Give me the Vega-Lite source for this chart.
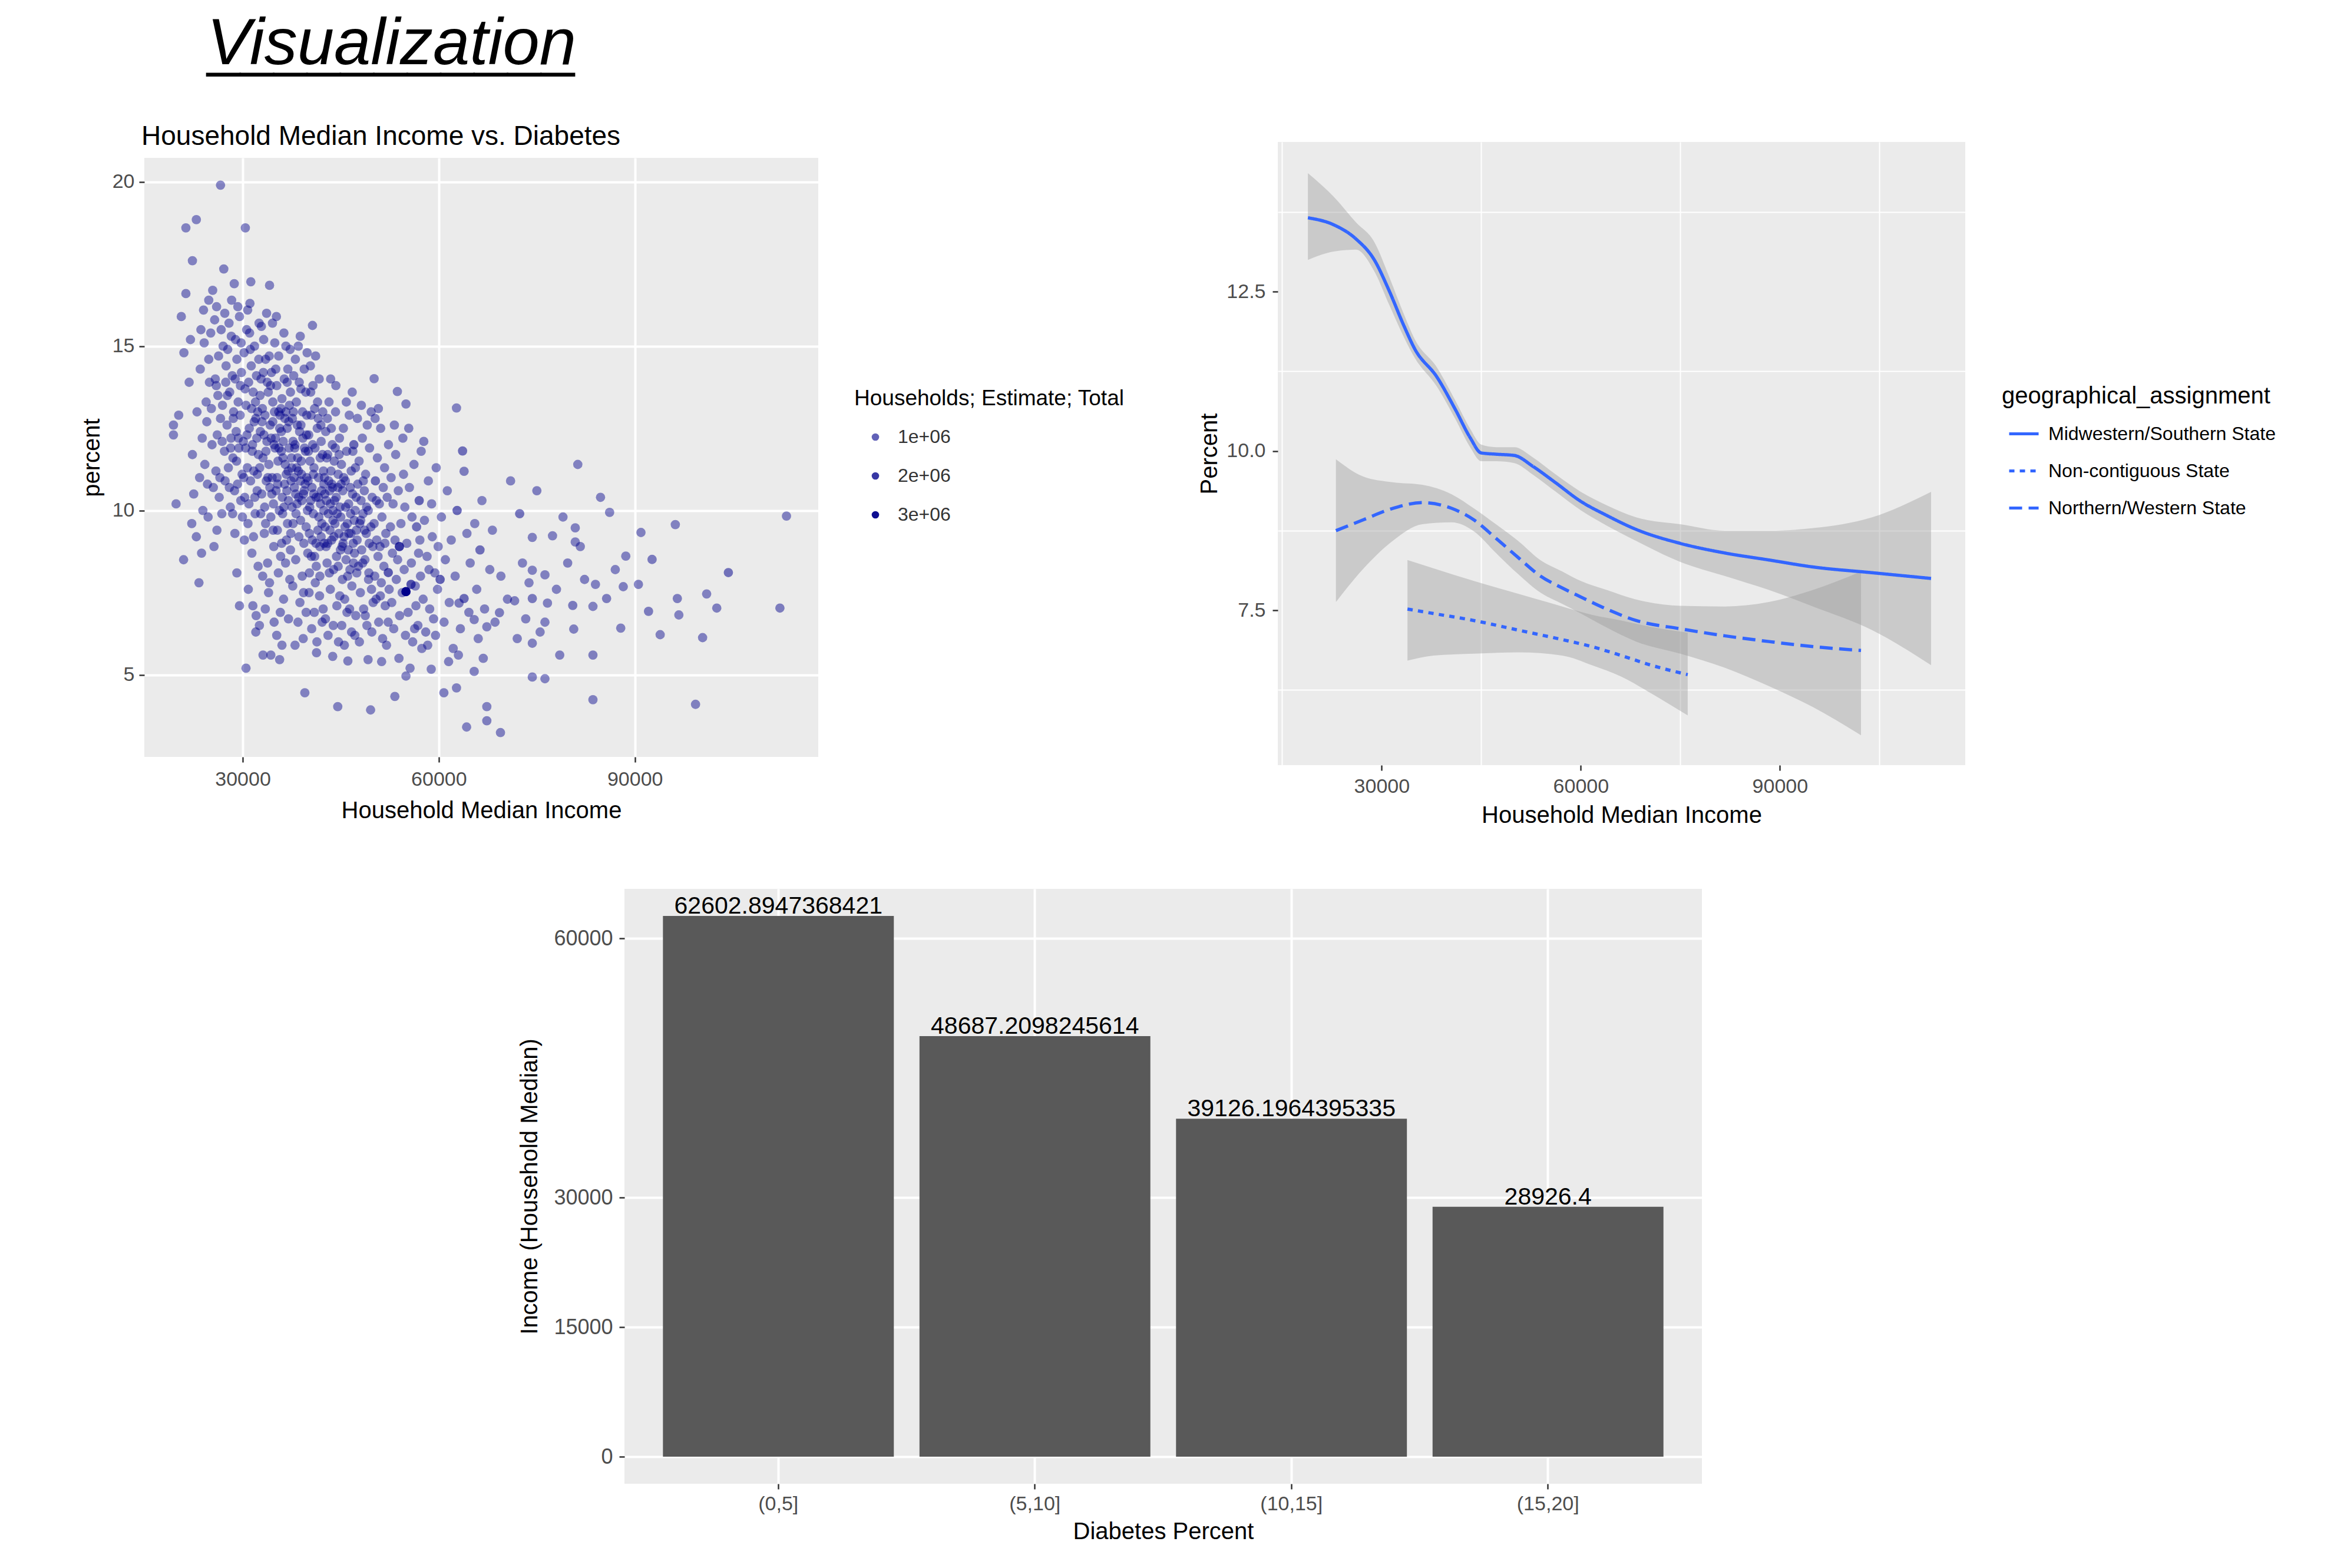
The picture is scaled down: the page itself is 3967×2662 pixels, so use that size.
{
"$schema": "https://vega.github.io/schema/vega-lite/v6.json",
"background": "#FFFFFF",
"padding": {"left": 136, "top": 18, "right": 10, "bottom": 10},
"title": {"text": "Visualization", "subtitle": "___________", "anchor": "start", "font": "Liberation Sans", "fontStyle": "italic", "fontWeight": "normal", "fontSize": 112, "color": "#000000", "subtitleFont": "Liberation Sans", "subtitleFontSize": 102, "subtitleColor": "#000000", "subtitlePadding": -104, "dx": 215, "offset": 76},
"config": {
  "font": "Liberation Sans",
  "view": {"stroke": null},
  "axis": {"domain": false, "labelColor": "#4D4D4D", "labelFont": "Liberation Sans", "titleFont": "Liberation Sans", "titleFontWeight": "normal", "titleColor": "#000000", "tickColor": "#333333", "tickSize": 9, "tickWidth": 2.5, "gridColor": "#FFFFFF", "gridWidth": 4},
  "legend": {"labelFont": "Liberation Sans", "titleFont": "Liberation Sans", "titleFontWeight": "normal", "titleColor": "#000000", "labelColor": "#000000", "padding": 0, "labelLimit": 1000, "titleLimit": 1000}
},
"datasets": {
"bars": [
 {"bin": "(0,5]", "income": 62602.8947368421},
 {"bin": "(5,10]", "income": 48687.2098245614},
 {"bin": "(10,15]", "income": 39126.1964395335},
 {"bin": "(15,20]", "income": 28926.4}
],
"smooth": [
 {"geo":"Midwestern/Southern State","inc":18889,"fit":13.66,"lo":13.00,"hi":14.36},
 {"geo":"Midwestern/Southern State","inc":22778,"fit":13.55,"lo":13.13,"hi":13.99},
 {"geo":"Midwestern/Southern State","inc":26111,"fit":13.33,"lo":13.16,"hi":13.59},
 {"geo":"Midwestern/Southern State","inc":28889,"fit":13.00,"lo":12.82,"hi":13.28},
 {"geo":"Midwestern/Southern State","inc":31111,"fit":12.52,"lo":12.30,"hi":12.74},
 {"geo":"Midwestern/Southern State","inc":33333,"fit":11.97,"lo":11.79,"hi":12.15},
 {"geo":"Midwestern/Southern State","inc":35000,"fit":11.60,"lo":11.46,"hi":11.75},
 {"geo":"Midwestern/Southern State","inc":38333,"fit":11.16,"lo":11.01,"hi":11.31},
 {"geo":"Midwestern/Southern State","inc":41111,"fit":10.65,"lo":10.50,"hi":10.79},
 {"geo":"Midwestern/Southern State","inc":43333,"fit":10.21,"lo":10.06,"hi":10.35},
 {"geo":"Midwestern/Southern State","inc":45000,"fit":9.97,"lo":9.84,"hi":10.10},
 {"geo":"Midwestern/Southern State","inc":47222,"fit":9.95,"lo":9.84,"hi":10.06},
 {"geo":"Midwestern/Southern State","inc":50000,"fit":9.93,"lo":9.81,"hi":10.06},
 {"geo":"Midwestern/Southern State","inc":52778,"fit":9.76,"lo":9.63,"hi":9.90},
 {"geo":"Midwestern/Southern State","inc":56111,"fit":9.51,"lo":9.37,"hi":9.64},
 {"geo":"Midwestern/Southern State","inc":60000,"fit":9.21,"lo":9.07,"hi":9.36},
 {"geo":"Midwestern/Southern State","inc":63889,"fit":8.99,"lo":8.83,"hi":9.15},
 {"geo":"Midwestern/Southern State","inc":68333,"fit":8.77,"lo":8.59,"hi":8.96},
 {"geo":"Midwestern/Southern State","inc":75000,"fit":8.55,"lo":8.26,"hi":8.85},
 {"geo":"Midwestern/Southern State","inc":81667,"fit":8.40,"lo":8.04,"hi":8.75},
 {"geo":"Midwestern/Southern State","inc":88333,"fit":8.29,"lo":7.82,"hi":8.75},
 {"geo":"Midwestern/Southern State","inc":95000,"fit":8.18,"lo":7.56,"hi":8.79},
 {"geo":"Midwestern/Southern State","inc":103889,"fit":8.09,"lo":7.19,"hi":8.96},
 {"geo":"Midwestern/Southern State","inc":112778,"fit":8.00,"lo":6.64,"hi":9.36},
 {"geo":"Non-contiguous State","inc":33889,"fit":7.52,"lo":6.71,"hi":8.29},
 {"geo":"Non-contiguous State","inc":37778,"fit":7.45,"lo":6.79,"hi":8.16},
 {"geo":"Non-contiguous State","inc":43889,"fit":7.34,"lo":6.82,"hi":7.96},
 {"geo":"Non-contiguous State","inc":50556,"fit":7.19,"lo":6.84,"hi":7.76},
 {"geo":"Non-contiguous State","inc":57222,"fit":7.04,"lo":6.79,"hi":7.56},
 {"geo":"Non-contiguous State","inc":61667,"fit":6.93,"lo":6.64,"hi":7.43},
 {"geo":"Non-contiguous State","inc":66111,"fit":6.79,"lo":6.46,"hi":7.34},
 {"geo":"Non-contiguous State","inc":70556,"fit":6.64,"lo":6.20,"hi":7.24},
 {"geo":"Non-contiguous State","inc":76111,"fit":6.49,"lo":5.85,"hi":7.15},
 {"geo":"Northern/Western State","inc":23111,"fit":8.75,"lo":7.63,"hi":9.87},
 {"geo":"Northern/Western State","inc":27222,"fit":8.92,"lo":8.15,"hi":9.60},
 {"geo":"Northern/Western State","inc":31667,"fit":9.10,"lo":8.59,"hi":9.51},
 {"geo":"Northern/Western State","inc":36111,"fit":9.19,"lo":8.85,"hi":9.47},
 {"geo":"Northern/Western State","inc":40556,"fit":9.10,"lo":8.88,"hi":9.32},
 {"geo":"Northern/Western State","inc":43889,"fit":8.92,"lo":8.74,"hi":9.10},
 {"geo":"Northern/Western State","inc":47222,"fit":8.63,"lo":8.40,"hi":8.85},
 {"geo":"Northern/Western State","inc":50556,"fit":8.33,"lo":8.07,"hi":8.59},
 {"geo":"Northern/Western State","inc":53889,"fit":8.04,"lo":7.78,"hi":8.29},
 {"geo":"Northern/Western State","inc":57222,"fit":7.85,"lo":7.60,"hi":8.11},
 {"geo":"Northern/Western State","inc":60000,"fit":7.71,"lo":7.45,"hi":7.96},
 {"geo":"Northern/Western State","inc":63889,"fit":7.52,"lo":7.23,"hi":7.82},
 {"geo":"Northern/Western State","inc":68333,"fit":7.34,"lo":7.01,"hi":7.67},
 {"geo":"Northern/Western State","inc":75000,"fit":7.21,"lo":6.82,"hi":7.57},
 {"geo":"Northern/Western State","inc":81667,"fit":7.10,"lo":6.60,"hi":7.56},
 {"geo":"Northern/Western State","inc":88333,"fit":7.01,"lo":6.31,"hi":7.63},
 {"geo":"Northern/Western State","inc":95000,"fit":6.93,"lo":5.98,"hi":7.82},
 {"geo":"Northern/Western State","inc":102222,"fit":6.87,"lo":5.54,"hi":8.11}
],
"pts": [
{"inc":19400,"pct":12.3,"hh":12000},{"inc":19400,"pct":12.6,"hh":31000},{"inc":19800,"pct":10.2,"hh":8000},{"inc":20600,"pct":15.9,"hh":22000},{"inc":20950,"pct":8.5,"hh":45000},{"inc":21300,"pct":18.6,"hh":15000},{"inc":21300,"pct":16.6,"hh":70000},{"inc":21800,"pct":13.9,"hh":26000},{"inc":22300,"pct":17.6,"hh":10000},{"inc":22300,"pct":11.7,"hh":38000},{"inc":22500,"pct":10.5,"hh":12000},{"inc":21000,"pct":14.8,"hh":31000},{"inc":22000,"pct":15.2,"hh":8000},{"inc":20200,"pct":12.9,"hh":22000},{"inc":22200,"pct":9.6,"hh":45000},
{"inc":22900,"pct":18.85,"hh":15000},{"inc":22900,"pct":9.2,"hh":70000},{"inc":23300,"pct":7.8,"hh":26000},{"inc":23500,"pct":14.3,"hh":10000},{"inc":23600,"pct":15.5,"hh":38000},{"inc":23800,"pct":12.2,"hh":12000},{"inc":24000,"pct":16.1,"hh":31000},{"inc":24200,"pct":11.4,"hh":8000},{"inc":24400,"pct":13.3,"hh":22000},{"inc":24600,"pct":10.8,"hh":45000},{"inc":24800,"pct":16.4,"hh":15000},{"inc":24800,"pct":14.6,"hh":70000},{"inc":23000,"pct":13.0,"hh":26000},{"inc":23900,"pct":10.0,"hh":10000},{"inc":24500,"pct":12.7,"hh":38000},{"inc":24100,"pct":15.1,"hh":12000},{"inc":23400,"pct":11.0,"hh":31000},{"inc":24700,"pct":9.8,"hh":8000},{"inc":24900,"pct":13.9,"hh":22000},{"inc":23700,"pct":8.7,"hh":45000},
{"inc":25100,"pct":15.4,"hh":15000},{"inc":25300,"pct":12.0,"hh":70000},{"inc":25600,"pct":8.9,"hh":26000},{"inc":25800,"pct":14.0,"hh":10000},{"inc":25900,"pct":11.2,"hh":38000},{"inc":26000,"pct":16.2,"hh":12000},{"inc":26200,"pct":13.5,"hh":31000},{"inc":26400,"pct":10.4,"hh":8000},{"inc":26600,"pct":19.9,"hh":22000},{"inc":26600,"pct":12.8,"hh":45000},{"inc":26800,"pct":9.9,"hh":15000},{"inc":27000,"pct":15.0,"hh":70000},{"inc":27100,"pct":17.35,"hh":26000},{"inc":27200,"pct":11.8,"hh":10000},{"inc":27400,"pct":13.9,"hh":38000},{"inc":25200,"pct":13.1,"hh":12000},{"inc":25500,"pct":10.7,"hh":31000},{"inc":25700,"pct":15.8,"hh":8000},{"inc":26100,"pct":12.3,"hh":22000},{"inc":26300,"pct":14.7,"hh":45000},{"inc":26500,"pct":11.0,"hh":15000},{"inc":26700,"pct":15.5,"hh":70000},{"inc":26900,"pct":13.2,"hh":26000},{"inc":27300,"pct":10.9,"hh":10000},{"inc":27450,"pct":14.4,"hh":38000},{"inc":25400,"pct":16.7,"hh":12000},{"inc":26050,"pct":9.4,"hh":31000},{"inc":26850,"pct":12.1,"hh":8000},{"inc":27250,"pct":16.0,"hh":22000},{"inc":25950,"pct":13.8,"hh":45000},
{"inc":27600,"pct":12.6,"hh":15000},{"inc":27700,"pct":14.9,"hh":70000},{"inc":27800,"pct":11.3,"hh":26000},{"inc":27900,"pct":15.7,"hh":10000},{"inc":28000,"pct":13.6,"hh":38000},{"inc":28100,"pct":10.1,"hh":12000},{"inc":28200,"pct":12.2,"hh":31000},{"inc":28300,"pct":16.4,"hh":8000},{"inc":28400,"pct":14.1,"hh":22000},{"inc":28500,"pct":11.6,"hh":45000},{"inc":28700,"pct":16.9,"hh":15000},{"inc":28600,"pct":13.0,"hh":70000},{"inc":28800,"pct":9.3,"hh":26000},{"inc":28900,"pct":15.2,"hh":10000},{"inc":29000,"pct":12.4,"hh":38000},{"inc":29100,"pct":14.6,"hh":12000},{"inc":29100,"pct":8.1,"hh":31000},{"inc":29200,"pct":10.8,"hh":8000},{"inc":29300,"pct":13.3,"hh":22000},{"inc":29400,"pct":11.9,"hh":45000},{"inc":29500,"pct":15.9,"hh":15000},{"inc":29500,"pct":7.1,"hh":70000},{"inc":29600,"pct":12.9,"hh":26000},{"inc":29700,"pct":10.3,"hh":10000},{"inc":29800,"pct":14.2,"hh":38000},{"inc":29900,"pct":11.1,"hh":12000},{"inc":27650,"pct":13.5,"hh":31000},{"inc":27950,"pct":10.7,"hh":8000},{"inc":28250,"pct":15.3,"hh":22000},{"inc":28550,"pct":12.8,"hh":45000},{"inc":28850,"pct":14.0,"hh":15000},{"inc":29050,"pct":11.5,"hh":70000},{"inc":29350,"pct":12.2,"hh":26000},{"inc":29650,"pct":13.8,"hh":10000},{"inc":29950,"pct":9.8,"hh":38000},{"inc":28150,"pct":11.9,"hh":12000},{"inc":28450,"pct":9.9,"hh":31000},{"inc":29250,"pct":16.2,"hh":8000},{"inc":29750,"pct":15.1,"hh":22000},{"inc":28750,"pct":10.6,"hh":45000},
{"inc":30100,"pct":12.1,"hh":15000},{"inc":30200,"pct":14.8,"hh":70000},{"inc":30300,"pct":10.4,"hh":26000},{"inc":30400,"pct":18.6,"hh":10000},{"inc":30500,"pct":13.2,"hh":38000},{"inc":30500,"pct":5.2,"hh":12000},{"inc":30600,"pct":15.5,"hh":31000},{"inc":30700,"pct":11.3,"hh":8000},{"inc":30800,"pct":9.6,"hh":22000},{"inc":30900,"pct":13.9,"hh":45000},{"inc":31000,"pct":12.5,"hh":15000},{"inc":31100,"pct":16.3,"hh":70000},{"inc":31200,"pct":10.9,"hh":26000},{"inc":31237,"pct":16.96,"hh":10000},{"inc":31300,"pct":14.4,"hh":38000},{"inc":31400,"pct":8.7,"hh":12000},{"inc":31500,"pct":12.0,"hh":31000},{"inc":31600,"pct":13.6,"hh":8000},{"inc":31700,"pct":11.2,"hh":22000},{"inc":31800,"pct":15.0,"hh":45000},{"inc":31900,"pct":9.9,"hh":15000},{"inc":32000,"pct":12.8,"hh":70000},{"inc":32100,"pct":14.1,"hh":26000},{"inc":32200,"pct":10.6,"hh":10000},{"inc":32300,"pct":13.0,"hh":38000},{"inc":32400,"pct":11.7,"hh":12000},{"inc":32500,"pct":15.7,"hh":31000},{"inc":30150,"pct":11.0,"hh":8000},{"inc":30350,"pct":13.7,"hh":22000},{"inc":30650,"pct":12.3,"hh":45000},{"inc":30950,"pct":10.2,"hh":15000},{"inc":31150,"pct":14.9,"hh":70000},{"inc":31450,"pct":11.8,"hh":26000},{"inc":31650,"pct":9.2,"hh":10000},{"inc":31950,"pct":13.3,"hh":38000},{"inc":32150,"pct":12.2,"hh":12000},{"inc":32350,"pct":8.3,"hh":31000},{"inc":32450,"pct":14.6,"hh":8000},{"inc":30850,"pct":7.6,"hh":22000},{"inc":31550,"pct":7.1,"hh":45000},{"inc":32050,"pct":6.8,"hh":15000},{"inc":30250,"pct":9.1,"hh":70000},{"inc":30750,"pct":16.1,"hh":26000},{"inc":31050,"pct":15.4,"hh":10000},{"inc":31850,"pct":10.4,"hh":38000},{"inc":32250,"pct":11.1,"hh":12000},{"inc":30450,"pct":11.9,"hh":31000},{"inc":31350,"pct":13.1,"hh":8000},{"inc":31750,"pct":12.7,"hh":22000},{"inc":32000,"pct":6.3,"hh":45000},
{"inc":32550,"pct":6.5,"hh":15000},{"inc":32700,"pct":12.4,"hh":70000},{"inc":32800,"pct":14.0,"hh":26000},{"inc":32900,"pct":10.5,"hh":10000},{"inc":33000,"pct":13.1,"hh":38000},{"inc":33100,"pct":11.6,"hh":12000},{"inc":33200,"pct":15.2,"hh":31000},{"inc":33300,"pct":9.3,"hh":8000},{"inc":33400,"pct":12.9,"hh":22000},{"inc":33500,"pct":14.6,"hh":45000},{"inc":33600,"pct":10.9,"hh":15000},{"inc":33700,"pct":12.1,"hh":70000},{"inc":33800,"pct":8.4,"hh":26000},{"inc":33900,"pct":13.6,"hh":10000},{"inc":34000,"pct":11.4,"hh":38000},{"inc":34100,"pct":16.85,"hh":12000},{"inc":34200,"pct":12.6,"hh":31000},{"inc":34300,"pct":9.8,"hh":8000},{"inc":34300,"pct":5.6,"hh":22000},{"inc":34400,"pct":14.2,"hh":45000},{"inc":34500,"pct":11.0,"hh":15000},{"inc":34600,"pct":13.3,"hh":70000},{"inc":34700,"pct":10.2,"hh":26000},{"inc":34800,"pct":12.0,"hh":10000},{"inc":34900,"pct":15.1,"hh":38000},{"inc":32600,"pct":11.3,"hh":12000},{"inc":32750,"pct":9.9,"hh":31000},{"inc":32950,"pct":12.7,"hh":8000},{"inc":33150,"pct":14.2,"hh":22000},{"inc":33350,"pct":10.1,"hh":45000},{"inc":33550,"pct":11.8,"hh":15000},{"inc":33750,"pct":13.9,"hh":70000},{"inc":33950,"pct":7.5,"hh":26000},{"inc":34150,"pct":10.7,"hh":10000},{"inc":34350,"pct":12.2,"hh":38000},{"inc":34550,"pct":15.7,"hh":12000},{"inc":34750,"pct":8.9,"hh":31000},{"inc":34950,"pct":11.9,"hh":8000},{"inc":32650,"pct":13.5,"hh":22000},{"inc":33050,"pct":8.0,"hh":45000},{"inc":33450,"pct":7.0,"hh":15000},{"inc":33850,"pct":11.0,"hh":70000},{"inc":34250,"pct":13.8,"hh":26000},{"inc":34650,"pct":9.4,"hh":10000},{"inc":34850,"pct":13.0,"hh":38000},{"inc":33250,"pct":12.3,"hh":12000},{"inc":33650,"pct":16.0,"hh":31000},{"inc":34050,"pct":14.7,"hh":8000},{"inc":34450,"pct":10.5,"hh":22000},{"inc":32850,"pct":15.6,"hh":45000},{"inc":33100,"pct":5.6,"hh":15000},{"inc":34800,"pct":6.6,"hh":70000},{"inc":33500,"pct":9.6,"hh":26000},{"inc":34100,"pct":7.8,"hh":10000},{"inc":34600,"pct":12.7,"hh":38000},
{"inc":35000,"pct":12.2,"hh":12000},{"inc":35100,"pct":10.6,"hh":31000},{"inc":35200,"pct":13.8,"hh":8000},{"inc":35300,"pct":9.4,"hh":22000},{"inc":35400,"pct":11.5,"hh":45000},{"inc":35500,"pct":14.7,"hh":15000},{"inc":35600,"pct":10.0,"hh":70000},{"inc":35644,"pct":5.46,"hh":26000},{"inc":35700,"pct":12.9,"hh":10000},{"inc":35800,"pct":8.6,"hh":38000},{"inc":35900,"pct":11.8,"hh":12000},{"inc":36000,"pct":13.4,"hh":31000},{"inc":36100,"pct":9.9,"hh":8000},{"inc":36200,"pct":12.1,"hh":22000},{"inc":36300,"pct":15.4,"hh":45000},{"inc":36400,"pct":10.8,"hh":15000},{"inc":36500,"pct":11.4,"hh":70000},{"inc":36600,"pct":13.0,"hh":26000},{"inc":36700,"pct":9.1,"hh":10000},{"inc":36800,"pct":12.5,"hh":38000},{"inc":36900,"pct":14.3,"hh":12000},{"inc":37000,"pct":10.3,"hh":31000},{"inc":37100,"pct":11.9,"hh":8000},{"inc":37200,"pct":7.9,"hh":22000},{"inc":37300,"pct":13.6,"hh":45000},{"inc":37400,"pct":10.9,"hh":15000},{"inc":35050,"pct":14.3,"hh":70000},{"inc":35250,"pct":11.0,"hh":26000},{"inc":35450,"pct":8.1,"hh":10000},{"inc":35650,"pct":12.5,"hh":38000},{"inc":35850,"pct":13.1,"hh":12000},{"inc":36050,"pct":10.4,"hh":31000},{"inc":36250,"pct":7.3,"hh":8000},{"inc":36450,"pct":12.8,"hh":22000},{"inc":36650,"pct":11.1,"hh":45000},{"inc":36850,"pct":9.6,"hh":15000},{"inc":37050,"pct":12.7,"hh":70000},{"inc":37250,"pct":14.9,"hh":26000},{"inc":37450,"pct":11.6,"hh":10000},{"inc":35150,"pct":15.9,"hh":38000},{"inc":35550,"pct":11.9,"hh":12000},{"inc":35950,"pct":9.0,"hh":31000},{"inc":36350,"pct":14.0,"hh":8000},{"inc":36750,"pct":10.6,"hh":22000},{"inc":37150,"pct":13.2,"hh":45000},{"inc":35350,"pct":10.8,"hh":15000},{"inc":35750,"pct":6.9,"hh":70000},{"inc":36150,"pct":11.6,"hh":26000},{"inc":36550,"pct":8.4,"hh":10000},{"inc":36950,"pct":11.2,"hh":38000},{"inc":37350,"pct":9.3,"hh":12000},{"inc":35200,"pct":6.2,"hh":31000},{"inc":36000,"pct":5.9,"hh":8000},{"inc":36600,"pct":15.0,"hh":22000},{"inc":37000,"pct":6.7,"hh":45000},{"inc":35900,"pct":12.4,"hh":15000},{"inc":36300,"pct":10.1,"hh":70000},{"inc":36800,"pct":13.9,"hh":26000},{"inc":37300,"pct":8.8,"hh":10000},{"inc":35500,"pct":13.0,"hh":38000},
{"inc":37500,"pct":11.3,"hh":12000},{"inc":37600,"pct":12.8,"hh":31000},{"inc":37700,"pct":9.6,"hh":8000},{"inc":37800,"pct":14.1,"hh":22000},{"inc":37900,"pct":10.7,"hh":45000},{"inc":38000,"pct":12.0,"hh":15000},{"inc":38100,"pct":8.5,"hh":70000},{"inc":38200,"pct":13.3,"hh":26000},{"inc":38300,"pct":10.2,"hh":10000},{"inc":38400,"pct":11.6,"hh":38000},{"inc":38500,"pct":15.0,"hh":12000},{"inc":38600,"pct":9.2,"hh":31000},{"inc":38700,"pct":12.4,"hh":8000},{"inc":38800,"pct":10.9,"hh":22000},{"inc":38900,"pct":13.7,"hh":45000},{"inc":39000,"pct":11.1,"hh":15000},{"inc":39100,"pct":8.0,"hh":70000},{"inc":39200,"pct":12.2,"hh":26000},{"inc":39300,"pct":10.5,"hh":10000},{"inc":39400,"pct":14.3,"hh":38000},{"inc":39500,"pct":4.45,"hh":12000},{"inc":39600,"pct":11.8,"hh":31000},{"inc":39700,"pct":9.5,"hh":8000},{"inc":39800,"pct":12.9,"hh":22000},{"inc":39900,"pct":10.0,"hh":45000},{"inc":37550,"pct":10.1,"hh":15000},{"inc":37750,"pct":13.0,"hh":70000},{"inc":37950,"pct":11.9,"hh":26000},{"inc":38150,"pct":9.9,"hh":10000},{"inc":38350,"pct":12.6,"hh":38000},{"inc":38550,"pct":10.4,"hh":12000},{"inc":38750,"pct":7.2,"hh":31000},{"inc":38950,"pct":11.5,"hh":8000},{"inc":39150,"pct":13.0,"hh":22000},{"inc":39350,"pct":9.0,"hh":45000},{"inc":39550,"pct":10.8,"hh":15000},{"inc":39750,"pct":12.3,"hh":70000},{"inc":39950,"pct":8.7,"hh":26000},{"inc":37650,"pct":7.7,"hh":10000},{"inc":38050,"pct":14.6,"hh":38000},{"inc":38450,"pct":6.6,"hh":12000},{"inc":38850,"pct":9.7,"hh":31000},{"inc":39250,"pct":6.1,"hh":8000},{"inc":39650,"pct":13.6,"hh":22000},{"inc":37850,"pct":11.0,"hh":45000},{"inc":38250,"pct":11.3,"hh":15000},{"inc":38650,"pct":13.9,"hh":70000},{"inc":39050,"pct":10.3,"hh":26000},{"inc":39450,"pct":11.9,"hh":10000},{"inc":39850,"pct":14.8,"hh":38000},{"inc":38000,"pct":5.9,"hh":12000},{"inc":38800,"pct":15.3,"hh":31000},{"inc":39300,"pct":7.5,"hh":8000},{"inc":39700,"pct":6.9,"hh":22000},{"inc":37700,"pct":12.1,"hh":45000},{"inc":38100,"pct":10.5,"hh":15000},{"inc":38500,"pct":11.2,"hh":70000},{"inc":38900,"pct":12.6,"hh":26000},{"inc":39400,"pct":10.6,"hh":10000},{"inc":39800,"pct":11.0,"hh":38000},
{"inc":40000,"pct":10.9,"hh":12000},{"inc":40100,"pct":12.3,"hh":31000},{"inc":40200,"pct":9.3,"hh":8000},{"inc":40300,"pct":11.5,"hh":22000},{"inc":40400,"pct":13.6,"hh":45000},{"inc":40500,"pct":8.6,"hh":15000},{"inc":40600,"pct":10.7,"hh":70000},{"inc":40670,"pct":15.63,"hh":26000},{"inc":40700,"pct":12.0,"hh":10000},{"inc":40800,"pct":9.9,"hh":38000},{"inc":40900,"pct":11.3,"hh":12000},{"inc":41000,"pct":13.1,"hh":31000},{"inc":41100,"pct":7.8,"hh":8000},{"inc":41200,"pct":10.4,"hh":22000},{"inc":41289,"pct":5.67,"hh":45000},{"inc":41400,"pct":12.5,"hh":15000},{"inc":41500,"pct":9.4,"hh":70000},{"inc":41600,"pct":11.0,"hh":26000},{"inc":41700,"pct":14.0,"hh":10000},{"inc":41800,"pct":8.9,"hh":38000},{"inc":41900,"pct":10.2,"hh":12000},{"inc":42000,"pct":12.1,"hh":31000},{"inc":42100,"pct":9.6,"hh":8000},{"inc":42200,"pct":11.7,"hh":22000},{"inc":42300,"pct":7.0,"hh":45000},{"inc":42400,"pct":10.8,"hh":15000},{"inc":40050,"pct":11.8,"hh":70000},{"inc":40250,"pct":10.1,"hh":26000},{"inc":40450,"pct":12.9,"hh":10000},{"inc":40650,"pct":9.1,"hh":38000},{"inc":40850,"pct":10.5,"hh":12000},{"inc":41050,"pct":11.9,"hh":31000},{"inc":41250,"pct":8.3,"hh":8000},{"inc":41450,"pct":13.3,"hh":22000},{"inc":41650,"pct":9.8,"hh":45000},{"inc":41850,"pct":11.6,"hh":15000},{"inc":42050,"pct":10.6,"hh":70000},{"inc":42250,"pct":13.0,"hh":26000},{"inc":42450,"pct":9.0,"hh":10000},{"inc":40150,"pct":7.5,"hh":38000},{"inc":40550,"pct":6.4,"hh":12000},{"inc":40950,"pct":6.9,"hh":31000},{"inc":41350,"pct":6.0,"hh":8000},{"inc":41750,"pct":7.4,"hh":22000},{"inc":42150,"pct":6.6,"hh":45000},{"inc":40350,"pct":14.4,"hh":15000},{"inc":40750,"pct":13.8,"hh":70000},{"inc":41150,"pct":14.7,"hh":26000},{"inc":41550,"pct":12.8,"hh":10000},{"inc":41950,"pct":12.6,"hh":38000},{"inc":42350,"pct":11.2,"hh":12000},{"inc":40400,"pct":10.3,"hh":31000},{"inc":40800,"pct":11.1,"hh":8000},{"inc":41200,"pct":9.0,"hh":22000},{"inc":41600,"pct":10.4,"hh":45000},{"inc":42000,"pct":9.2,"hh":15000},{"inc":42400,"pct":10.0,"hh":70000},{"inc":40200,"pct":8.1,"hh":26000},{"inc":41000,"pct":8.6,"hh":10000},{"inc":41800,"pct":8.0,"hh":38000},
{"inc":42500,"pct":11.0,"hh":12000},{"inc":42600,"pct":9.5,"hh":31000},{"inc":42700,"pct":12.4,"hh":8000},{"inc":42800,"pct":10.3,"hh":22000},{"inc":42900,"pct":8.4,"hh":45000},{"inc":43000,"pct":11.7,"hh":15000},{"inc":43100,"pct":9.9,"hh":70000},{"inc":43200,"pct":13.3,"hh":26000},{"inc":43300,"pct":10.6,"hh":10000},{"inc":43400,"pct":7.6,"hh":38000},{"inc":43500,"pct":11.2,"hh":12000},{"inc":43600,"pct":9.1,"hh":31000},{"inc":43700,"pct":12.0,"hh":8000},{"inc":43763,"pct":5.56,"hh":22000},{"inc":43800,"pct":10.0,"hh":45000},{"inc":43900,"pct":8.2,"hh":15000},{"inc":44000,"pct":11.5,"hh":70000},{"inc":44100,"pct":9.6,"hh":26000},{"inc":44200,"pct":13.0,"hh":10000},{"inc":44300,"pct":10.4,"hh":38000},{"inc":44400,"pct":7.1,"hh":12000},{"inc":44536,"pct":4.03,"hh":31000},{"inc":44600,"pct":11.1,"hh":8000},{"inc":44700,"pct":9.3,"hh":22000},{"inc":44800,"pct":12.2,"hh":45000},{"inc":44900,"pct":10.1,"hh":15000},{"inc":42550,"pct":10.5,"hh":70000},{"inc":42750,"pct":8.9,"hh":26000},{"inc":42950,"pct":12.8,"hh":10000},{"inc":43150,"pct":10.9,"hh":38000},{"inc":43350,"pct":9.4,"hh":12000},{"inc":43550,"pct":12.5,"hh":31000},{"inc":43750,"pct":10.7,"hh":8000},{"inc":43950,"pct":9.2,"hh":22000},{"inc":44150,"pct":11.9,"hh":45000},{"inc":44350,"pct":8.6,"hh":15000},{"inc":44550,"pct":10.7,"hh":70000},{"inc":44750,"pct":11.7,"hh":26000},{"inc":44950,"pct":8.8,"hh":10000},{"inc":42650,"pct":6.7,"hh":38000},{"inc":43050,"pct":6.2,"hh":12000},{"inc":43450,"pct":14.0,"hh":31000},{"inc":43850,"pct":6.5,"hh":8000},{"inc":44250,"pct":13.8,"hh":22000},{"inc":44650,"pct":6.0,"hh":45000},{"inc":42850,"pct":11.6,"hh":15000},{"inc":43250,"pct":8.1,"hh":70000},{"inc":43650,"pct":10.8,"hh":26000},{"inc":44050,"pct":10.3,"hh":10000},{"inc":44450,"pct":9.9,"hh":38000},{"inc":44850,"pct":7.4,"hh":12000},{"inc":43000,"pct":9.0,"hh":31000},{"inc":43800,"pct":9.7,"hh":8000},{"inc":44600,"pct":8.3,"hh":22000},{"inc":43400,"pct":10.2,"hh":45000},
{"inc":45000,"pct":9.8,"hh":15000},{"inc":45100,"pct":11.4,"hh":70000},{"inc":45200,"pct":8.9,"hh":26000},{"inc":45300,"pct":10.6,"hh":10000},{"inc":45400,"pct":12.5,"hh":38000},{"inc":45500,"pct":9.2,"hh":12000},{"inc":45600,"pct":7.3,"hh":31000},{"inc":45700,"pct":10.9,"hh":8000},{"inc":45800,"pct":8.5,"hh":22000},{"inc":45900,"pct":11.8,"hh":45000},{"inc":46000,"pct":9.6,"hh":15000},{"inc":46083,"pct":5.42,"hh":70000},{"inc":46200,"pct":10.2,"hh":26000},{"inc":46300,"pct":12.9,"hh":10000},{"inc":46400,"pct":8.2,"hh":38000},{"inc":46500,"pct":9.9,"hh":12000},{"inc":46600,"pct":11.2,"hh":31000},{"inc":46700,"pct":7.7,"hh":8000},{"inc":46800,"pct":10.5,"hh":22000},{"inc":46900,"pct":9.0,"hh":45000},{"inc":47000,"pct":12.0,"hh":650000},{"inc":47100,"pct":8.7,"hh":70000},{"inc":47200,"pct":10.0,"hh":26000},{"inc":47300,"pct":6.8,"hh":10000},{"inc":47400,"pct":9.4,"hh":38000},{"inc":45050,"pct":10.8,"hh":12000},{"inc":45250,"pct":7.9,"hh":31000},{"inc":45450,"pct":11.0,"hh":8000},{"inc":45650,"pct":9.5,"hh":22000},{"inc":45850,"pct":13.3,"hh":45000},{"inc":46050,"pct":8.0,"hh":15000},{"inc":46250,"pct":9.3,"hh":70000},{"inc":46450,"pct":10.7,"hh":26000},{"inc":46650,"pct":6.3,"hh":10000},{"inc":46850,"pct":11.8,"hh":38000},{"inc":47050,"pct":9.7,"hh":12000},{"inc":47250,"pct":11.3,"hh":31000},{"inc":47450,"pct":8.1,"hh":8000},{"inc":45150,"pct":6.5,"hh":22000},{"inc":45550,"pct":5.9,"hh":45000},{"inc":45950,"pct":6.9,"hh":15000},{"inc":46350,"pct":7.0,"hh":70000},{"inc":46750,"pct":13.6,"hh":26000},{"inc":47150,"pct":6.2,"hh":10000},{"inc":45350,"pct":9.0,"hh":38000},{"inc":45750,"pct":10.1,"hh":12000},{"inc":46150,"pct":8.8,"hh":31000},{"inc":46550,"pct":9.3,"hh":8000},{"inc":46950,"pct":8.4,"hh":22000},{"inc":47350,"pct":10.4,"hh":45000},
{"inc":47500,"pct":9.1,"hh":15000},{"inc":47600,"pct":10.8,"hh":70000},{"inc":47700,"pct":8.3,"hh":26000},{"inc":47800,"pct":11.5,"hh":10000},{"inc":47900,"pct":9.6,"hh":38000},{"inc":48000,"pct":7.5,"hh":12000},{"inc":48100,"pct":10.3,"hh":31000},{"inc":48200,"pct":8.8,"hh":8000},{"inc":48300,"pct":12.2,"hh":22000},{"inc":48400,"pct":9.9,"hh":45000},{"inc":48500,"pct":7.0,"hh":15000},{"inc":48600,"pct":10.6,"hh":70000},{"inc":48700,"pct":8.5,"hh":26000},{"inc":48800,"pct":11.1,"hh":10000},{"inc":48900,"pct":9.3,"hh":38000},{"inc":49000,"pct":6.5,"hh":12000},{"inc":49175,"pct":5.46,"hh":31000},{"inc":49200,"pct":10.0,"hh":8000},{"inc":49300,"pct":8.1,"hh":22000},{"inc":49400,"pct":11.9,"hh":45000},{"inc":49562,"pct":3.93,"hh":15000},{"inc":49600,"pct":9.5,"hh":70000},{"inc":49700,"pct":7.6,"hh":26000},{"inc":49800,"pct":10.4,"hh":10000},{"inc":49900,"pct":8.9,"hh":38000},{"inc":47550,"pct":12.8,"hh":12000},{"inc":47850,"pct":6.0,"hh":31000},{"inc":48150,"pct":13.2,"hh":8000},{"inc":48450,"pct":10.9,"hh":22000},{"inc":48750,"pct":6.8,"hh":45000},{"inc":49050,"pct":12.6,"hh":15000},{"inc":49350,"pct":9.0,"hh":70000},{"inc":49650,"pct":13.0,"hh":26000},{"inc":49950,"pct":7.2,"hh":10000},{"inc":48050,"pct":9.7,"hh":38000},{"inc":48350,"pct":8.4,"hh":12000},{"inc":48650,"pct":9.4,"hh":31000},{"inc":48950,"pct":10.1,"hh":8000},{"inc":49250,"pct":7.9,"hh":22000},{"inc":49750,"pct":6.3,"hh":45000},
{"inc":50103,"pct":14.01,"hh":15000},{"inc":50100,"pct":9.6,"hh":70000},{"inc":50200,"pct":8.0,"hh":26000},{"inc":50300,"pct":10.9,"hh":550000},{"inc":50400,"pct":7.3,"hh":38000},{"inc":50500,"pct":9.1,"hh":12000},{"inc":50600,"pct":11.6,"hh":31000},{"inc":50700,"pct":8.6,"hh":8000},{"inc":50800,"pct":6.6,"hh":22000},{"inc":50900,"pct":10.2,"hh":45000},{"inc":51000,"pct":8.9,"hh":15000},{"inc":51100,"pct":12.5,"hh":70000},{"inc":51200,"pct":7.8,"hh":26000},{"inc":51300,"pct":9.8,"hh":10000},{"inc":51400,"pct":6.1,"hh":38000},{"inc":51500,"pct":10.7,"hh":12000},{"inc":51600,"pct":8.3,"hh":31000},{"inc":51700,"pct":11.3,"hh":8000},{"inc":51800,"pct":7.1,"hh":22000},{"inc":51900,"pct":9.3,"hh":45000},{"inc":52000,"pct":5.9,"hh":15000},{"inc":52100,"pct":10.4,"hh":70000},{"inc":52268,"pct":8.11,"hh":1000000},{"inc":52300,"pct":12.0,"hh":10000},{"inc":52400,"pct":7.6,"hh":38000},{"inc":50250,"pct":12.8,"hh":12000},{"inc":50750,"pct":13.1,"hh":31000},{"inc":51250,"pct":5.4,"hh":8000},{"inc":51750,"pct":9.0,"hh":22000},{"inc":52250,"pct":6.6,"hh":45000},{"inc":50450,"pct":10.3,"hh":15000},{"inc":51050,"pct":7.4,"hh":70000},
{"inc":52600,"pct":9.5,"hh":26000},{"inc":52700,"pct":11.0,"hh":10000},{"inc":52800,"pct":7.2,"hh":38000},{"inc":52900,"pct":8.7,"hh":12000},{"inc":53000,"pct":10.2,"hh":31000},{"inc":53100,"pct":6.4,"hh":8000},{"inc":53273,"pct":4.34,"hh":22000},{"inc":53300,"pct":9.1,"hh":45000},{"inc":53400,"pct":11.7,"hh":15000},{"inc":53500,"pct":7.9,"hh":70000},{"inc":53660,"pct":13.62,"hh":26000},{"inc":53700,"pct":8.5,"hh":10000},{"inc":53800,"pct":10.6,"hh":38000},{"inc":53969,"pct":8.9,"hh":1900000},{"inc":54000,"pct":6.8,"hh":31000},{"inc":54200,"pct":9.6,"hh":8000},{"inc":54400,"pct":7.5,"hh":22000},{"inc":54500,"pct":12.2,"hh":45000},{"inc":54700,"pct":8.2,"hh":15000},{"inc":54974,"pct":13.24,"hh":70000},{"inc":54974,"pct":4.96,"hh":26000},{"inc":54800,"pct":10.1,"hh":10000},{"inc":54900,"pct":6.2,"hh":38000},{"inc":53200,"pct":12.6,"hh":12000},{"inc":53900,"pct":5.5,"hh":31000},{"inc":54600,"pct":11.1,"hh":8000},
{"inc":54974,"pct":7.53,"hh":3300000},{"inc":55100,"pct":9.0,"hh":22000},{"inc":55300,"pct":6.9,"hh":45000},{"inc":55500,"pct":10.7,"hh":15000},{"inc":55748,"pct":7.75,"hh":1200000},{"inc":55800,"pct":8.4,"hh":26000},{"inc":56000,"pct":6.0,"hh":10000},{"inc":56200,"pct":11.4,"hh":38000},{"inc":56400,"pct":7.7,"hh":12000},{"inc":56600,"pct":9.5,"hh":450000},{"inc":56800,"pct":6.5,"hh":8000},{"inc":57000,"pct":10.3,"hh":800000},{"inc":57200,"pct":8.0,"hh":45000},{"inc":57400,"pct":5.8,"hh":15000},{"inc":55400,"pct":12.5,"hh":70000},{"inc":55900,"pct":9.8,"hh":26000},{"inc":56500,"pct":7.1,"hh":10000},{"inc":56900,"pct":8.7,"hh":38000},{"inc":57300,"pct":11.8,"hh":12000},{"inc":55600,"pct":5.2,"hh":31000},{"inc":56300,"pct":6.4,"hh":8000},{"inc":57100,"pct":9.1,"hh":22000},
{"inc":57600,"pct":7.3,"hh":45000},{"inc":57800,"pct":9.7,"hh":15000},{"inc":58000,"pct":6.3,"hh":70000},{"inc":58200,"pct":8.6,"hh":26000},{"inc":58400,"pct":10.9,"hh":10000},{"inc":58600,"pct":7.0,"hh":38000},{"inc":58840,"pct":5.17,"hh":12000},{"inc":59000,"pct":9.2,"hh":31000},{"inc":59200,"pct":6.7,"hh":8000},{"inc":59400,"pct":8.1,"hh":22000},{"inc":59600,"pct":11.3,"hh":45000},{"inc":59800,"pct":7.6,"hh":15000},{"inc":57700,"pct":12.1,"hh":70000},{"inc":58300,"pct":5.9,"hh":26000},{"inc":58900,"pct":10.2,"hh":10000},{"inc":59500,"pct":6.2,"hh":38000},{"inc":59900,"pct":8.9,"hh":12000},{"inc":58500,"pct":8.2,"hh":31000},
{"inc":60200,"pct":7.9,"hh":900000},{"inc":60400,"pct":9.8,"hh":22000},{"inc":60773,"pct":4.45,"hh":45000},{"inc":60800,"pct":6.6,"hh":15000},{"inc":61000,"pct":8.5,"hh":70000},{"inc":61300,"pct":10.6,"hh":26000},{"inc":61600,"pct":7.2,"hh":10000},{"inc":61900,"pct":9.1,"hh":38000},{"inc":62200,"pct":5.8,"hh":12000},{"inc":62500,"pct":8.0,"hh":31000},{"inc":62706,"pct":13.12,"hh":8000},{"inc":62706,"pct":4.6,"hh":22000},{"inc":62800,"pct":10.0,"hh":700000},{"inc":63093,"pct":7.18,"hh":150000},{"inc":63300,"pct":6.4,"hh":70000},{"inc":63634,"pct":11.81,"hh":500000},{"inc":63866,"pct":11.19,"hh":120000},{"inc":63866,"pct":7.32,"hh":600000},{"inc":64253,"pct":3.41,"hh":12000},{"inc":64300,"pct":9.3,"hh":31000},{"inc":64600,"pct":6.9,"hh":80000},{"inc":64800,"pct":8.4,"hh":22000},{"inc":61500,"pct":5.4,"hh":45000},{"inc":63000,"pct":5.6,"hh":15000},
{"inc":65413,"pct":6.68,"hh":70000},{"inc":65413,"pct":5.10,"hh":26000},{"inc":65500,"pct":9.6,"hh":10000},{"inc":65800,"pct":7.6,"hh":38000},{"inc":66032,"pct":6.10,"hh":12000},{"inc":66300,"pct":8.8,"hh":500000},{"inc":66600,"pct":10.3,"hh":8000},{"inc":67000,"pct":7.0,"hh":22000},{"inc":67345,"pct":6.46,"hh":45000},{"inc":67345,"pct":4.03,"hh":15000},{"inc":67345,"pct":3.60,"hh":70000},{"inc":67800,"pct":8.2,"hh":26000},{"inc":68200,"pct":9.4,"hh":10000},{"inc":68600,"pct":6.6,"hh":38000},{"inc":69280,"pct":6.89,"hh":120000},{"inc":69433,"pct":3.24,"hh":31000},{"inc":69500,"pct":8.0,"hh":8000},{"inc":66800,"pct":5.5,"hh":22000},
{"inc":70500,"pct":7.3,"hh":45000},{"inc":70980,"pct":10.9,"hh":15000},{"inc":71599,"pct":7.25,"hh":70000},{"inc":72372,"pct":9.90,"hh":400000},{"inc":72800,"pct":8.4,"hh":10000},{"inc":73300,"pct":6.7,"hh":38000},{"inc":73800,"pct":7.8,"hh":12000},{"inc":74306,"pct":9.18,"hh":31000},{"inc":74306,"pct":7.32,"hh":250000},{"inc":74306,"pct":5.96,"hh":22000},{"inc":74306,"pct":4.93,"hh":45000},{"inc":74306,"pct":8.18,"hh":15000},{"inc":75000,"pct":10.6,"hh":70000},{"inc":75500,"pct":6.3,"hh":26000},{"inc":76239,"pct":4.88,"hh":10000},{"inc":76239,"pct":8.04,"hh":38000},{"inc":76239,"pct":6.6,"hh":12000},{"inc":76625,"pct":7.18,"hh":31000},{"inc":77398,"pct":9.23,"hh":8000},{"inc":78000,"pct":7.6,"hh":22000},{"inc":78500,"pct":5.6,"hh":45000},{"inc":79000,"pct":9.8,"hh":15000},{"inc":79717,"pct":8.40,"hh":70000},{"inc":72000,"pct":6.1,"hh":26000},
{"inc":80491,"pct":7.11,"hh":200000},{"inc":80645,"pct":6.39,"hh":38000},{"inc":80877,"pct":9.04,"hh":12000},{"inc":80877,"pct":9.47,"hh":31000},{"inc":81264,"pct":11.40,"hh":8000},{"inc":81650,"pct":8.9,"hh":22000},{"inc":82300,"pct":7.9,"hh":45000},{"inc":83582,"pct":7.08,"hh":15000},{"inc":83582,"pct":5.60,"hh":70000},{"inc":83582,"pct":4.24,"hh":26000},{"inc":83969,"pct":7.75,"hh":10000},{"inc":84743,"pct":10.40,"hh":38000},{"inc":85670,"pct":7.32,"hh":120000},{"inc":86134,"pct":9.94,"hh":31000},{"inc":87000,"pct":8.2,"hh":8000},{"inc":87836,"pct":6.42,"hh":22000},{"inc":88222,"pct":7.68,"hh":45000},{"inc":88609,"pct":8.61,"hh":15000},{"inc":90542,"pct":7.75,"hh":70000},{"inc":90929,"pct":9.33,"hh":26000},{"inc":92089,"pct":6.93,"hh":150000},{"inc":92630,"pct":8.51,"hh":200000},{"inc":93868,"pct":6.22,"hh":38000},{"inc":96187,"pct":9.57,"hh":12000},{"inc":96496,"pct":7.32,"hh":100000},{"inc":96728,"pct":6.82,"hh":8000},{"inc":99280,"pct":4.10,"hh":22000},{"inc":100362,"pct":6.13,"hh":45000},{"inc":100980,"pct":7.46,"hh":15000},{"inc":102527,"pct":7.03,"hh":70000},{"inc":104305,"pct":8.11,"hh":400000},{"inc":112191,"pct":7.03,"hh":120000},{"inc":113196,"pct":9.83,"hh":38000}
]
},
"spacing": 104,
"vconcat": [
 {
  "spacing": 644,
  "hconcat": [
   {
    "spacing": 13,
    "vconcat": [
     {"width": 1144, "height": 1, "data": {"values": [{}]}, "mark": {"type": "text"}, "encoding": {"text": {"value": ""}}, "view": {"stroke": null, "fill": null},
      "title": {"text": "Household Median Income vs. Diabetes", "anchor": "start", "frame": "group", "fontSize": 46, "fontWeight": "normal", "font": "Liberation Sans", "color": "#000000", "offset": -20, "dx": -5}},
     {
      "width": 1144, "height": 1017,
      "view": {"fill": "#EBEBEB", "stroke": null},
      "data": {"name": "pts"},
      "layer": [
       {
        "mark": {"type": "point", "filled": true, "size": 250, "color": "#00008B", "strokeWidth": 0},
        "encoding": {
         "x": {"field": "inc", "type": "quantitative", "scale": {"domain": [14943, 118060], "nice": false, "zero": false}, "axis": {"orient": "bottom", "values": [30000, 60000, 90000], "format": "d", "title": "Household Median Income", "labelFontSize": 34, "titleFontSize": 40, "labelPadding": 12, "titlePadding": 16}},
         "y": {"field": "pct", "type": "quantitative", "scale": {"domain": [2.5, 20.73], "nice": false, "zero": false}, "axis": {"orient": "left", "values": [5, 10, 15, 20], "title": "percent", "labelFontSize": 34, "titleFontSize": 40, "labelPadding": 8, "titlePadding": 14}},
         "opacity": {"field": "hh", "type": "quantitative", "scale": {"domain": [0, 3300000], "range": [0.45, 1]}, "legend": {"title": "Households; Estimate; Total", "values": [1000000, 2000000, 3000000], "labelExpr": "format(datum.value/1000000,'d') + 'e+06'", "orient": "none", "legendX": 1205, "legendY": 418, "titleFontSize": 37, "labelFontSize": 32, "labelColor": "#333333", "symbolType": "circle", "symbolSize": 160, "symbolFillColor": "#00008B", "symbolStrokeWidth": 0, "rowPadding": 34, "titlePadding": 30, "symbolOffset": 20, "labelOffset": 22}}
        }
       },
       {
        "transform": [{"filter": "datum.hh > 3000000"}],
        "mark": {"type": "point", "filled": true, "opacity": 0},
        "encoding": {
         "x": {"field": "inc", "type": "quantitative", "axis": {"orient": "bottom", "values": [15000, 45000, 75000, 105000], "labels": false, "ticks": false, "title": null, "gridWidth": 2}},
         "y": {"field": "pct", "type": "quantitative", "axis": {"orient": "left", "values": [2.5, 7.5, 12.5, 17.5], "labels": false, "ticks": false, "title": null, "gridWidth": 2}}
        }
       }
      ],
      "resolve": {"axis": {"x": "independent", "y": "independent"}}
     }
    ]
   },
   {
    "width": 1167, "height": 1058,
    "view": {"fill": "#EBEBEB", "stroke": null},
    "data": {"name": "smooth"},
    "layer": [
     {
      "mark": {"type": "area", "color": "#999999", "opacity": 0.4, "interpolate": "monotone"},
      "encoding": {
       "x": {"field": "inc", "type": "quantitative", "scale": {"domain": [14350, 117930], "nice": false, "zero": false}, "axis": {"orient": "bottom", "values": [15000, 45000, 75000, 105000], "labels": false, "ticks": false, "title": null, "gridWidth": 2}},
       "y": {"field": "lo", "type": "quantitative", "scale": {"domain": [5.07, 14.85], "nice": false, "zero": false}, "axis": {"orient": "left", "values": [6.25, 8.75, 11.25, 13.75], "labels": false, "ticks": false, "title": null, "gridWidth": 2}},
       "y2": {"field": "hi"},
       "detail": {"field": "geo", "type": "nominal"}
      }
     },
     {
      "mark": {"type": "line", "color": "#3366FF", "strokeWidth": 5.5, "interpolate": "monotone"},
      "encoding": {
       "x": {"field": "inc", "type": "quantitative", "axis": {"orient": "bottom", "values": [30000, 60000, 90000], "format": "d", "title": "Household Median Income", "labelFontSize": 34, "titleFontSize": 40, "labelPadding": 10, "titlePadding": 12}},
       "y": {"field": "fit", "type": "quantitative", "axis": {"orient": "left", "values": [7.5, 10, 12.5], "format": ".1f", "title": "Percent", "labelFontSize": 34, "titleFontSize": 40, "labelPadding": 12, "titlePadding": 8}},
       "strokeDash": {"field": "geo", "type": "nominal", "scale": {"domain": ["Midwestern/Southern State", "Non-contiguous State", "Northern/Western State"], "range": [[1, 0], [9, 9], [22, 11]]}, "legend": {"title": "geographical_assignment", "orient": "none", "legendX": 3153, "legendY": 412, "symbolType": "stroke", "symbolSize": 2500, "symbolStrokeWidth": 5, "symbolStrokeColor": "#3366FF", "labelFontSize": 32, "titleFontSize": 40, "rowPadding": 19, "titlePadding": 16, "symbolOffset": 10, "labelOffset": 14}}
      }
     }
    ],
    "resolve": {"axis": {"x": "independent", "y": "independent"}}
   }
  ]
 },
 {
  "spacing": 0,
  "bounds": "flush",
  "hconcat": [
   {"width": 815, "height": 10, "data": {"values": [{}]}, "mark": {"type": "text"}, "encoding": {"text": {"value": ""}}, "view": {"stroke": null, "fill": null}},
   {
    "width": 1829, "height": 1010,
    "view": {"fill": "#EBEBEB", "stroke": null},
    "data": {"name": "bars"},
    "layer": [
     {
      "mark": {"type": "bar", "color": "#595959"},
      "encoding": {
       "x": {"field": "bin", "type": "nominal", "sort": null, "scale": {"paddingInner": 0.1, "paddingOuter": 0.15}, "axis": {"orient": "bottom", "labelAngle": 0, "grid": true, "gridWidth": 4, "bandPosition": 0.5, "title": "Diabetes Percent", "labelFontSize": 34, "titleFontSize": 40, "labelPadding": 8, "titlePadding": 10}},
       "y": {"field": "income", "type": "quantitative", "scale": {"domain": [-3130, 65733], "nice": false, "zero": false}, "axis": {"orient": "left", "values": [0, 15000, 30000, 60000], "format": "d", "title": "Income (Household Median)", "labelFontSize": 36, "titleFontSize": 40, "labelPadding": 11, "titlePadding": 20}}
      }
     },
     {
      "mark": {"type": "text", "baseline": "alphabetic", "dy": -4, "fontSize": 41, "color": "#000000"},
      "encoding": {
       "x": {"field": "bin", "type": "nominal", "sort": null, "axis": null},
       "y": {"field": "income", "type": "quantitative", "axis": {"orient": "left", "values": [7500, 22500, 45000], "labels": false, "ticks": false, "title": null, "gridWidth": 2}},
       "text": {"field": "income", "type": "nominal"}
      }
     }
    ],
    "resolve": {"axis": {"x": "independent", "y": "independent"}}
   }
  ]
 }
]
}
